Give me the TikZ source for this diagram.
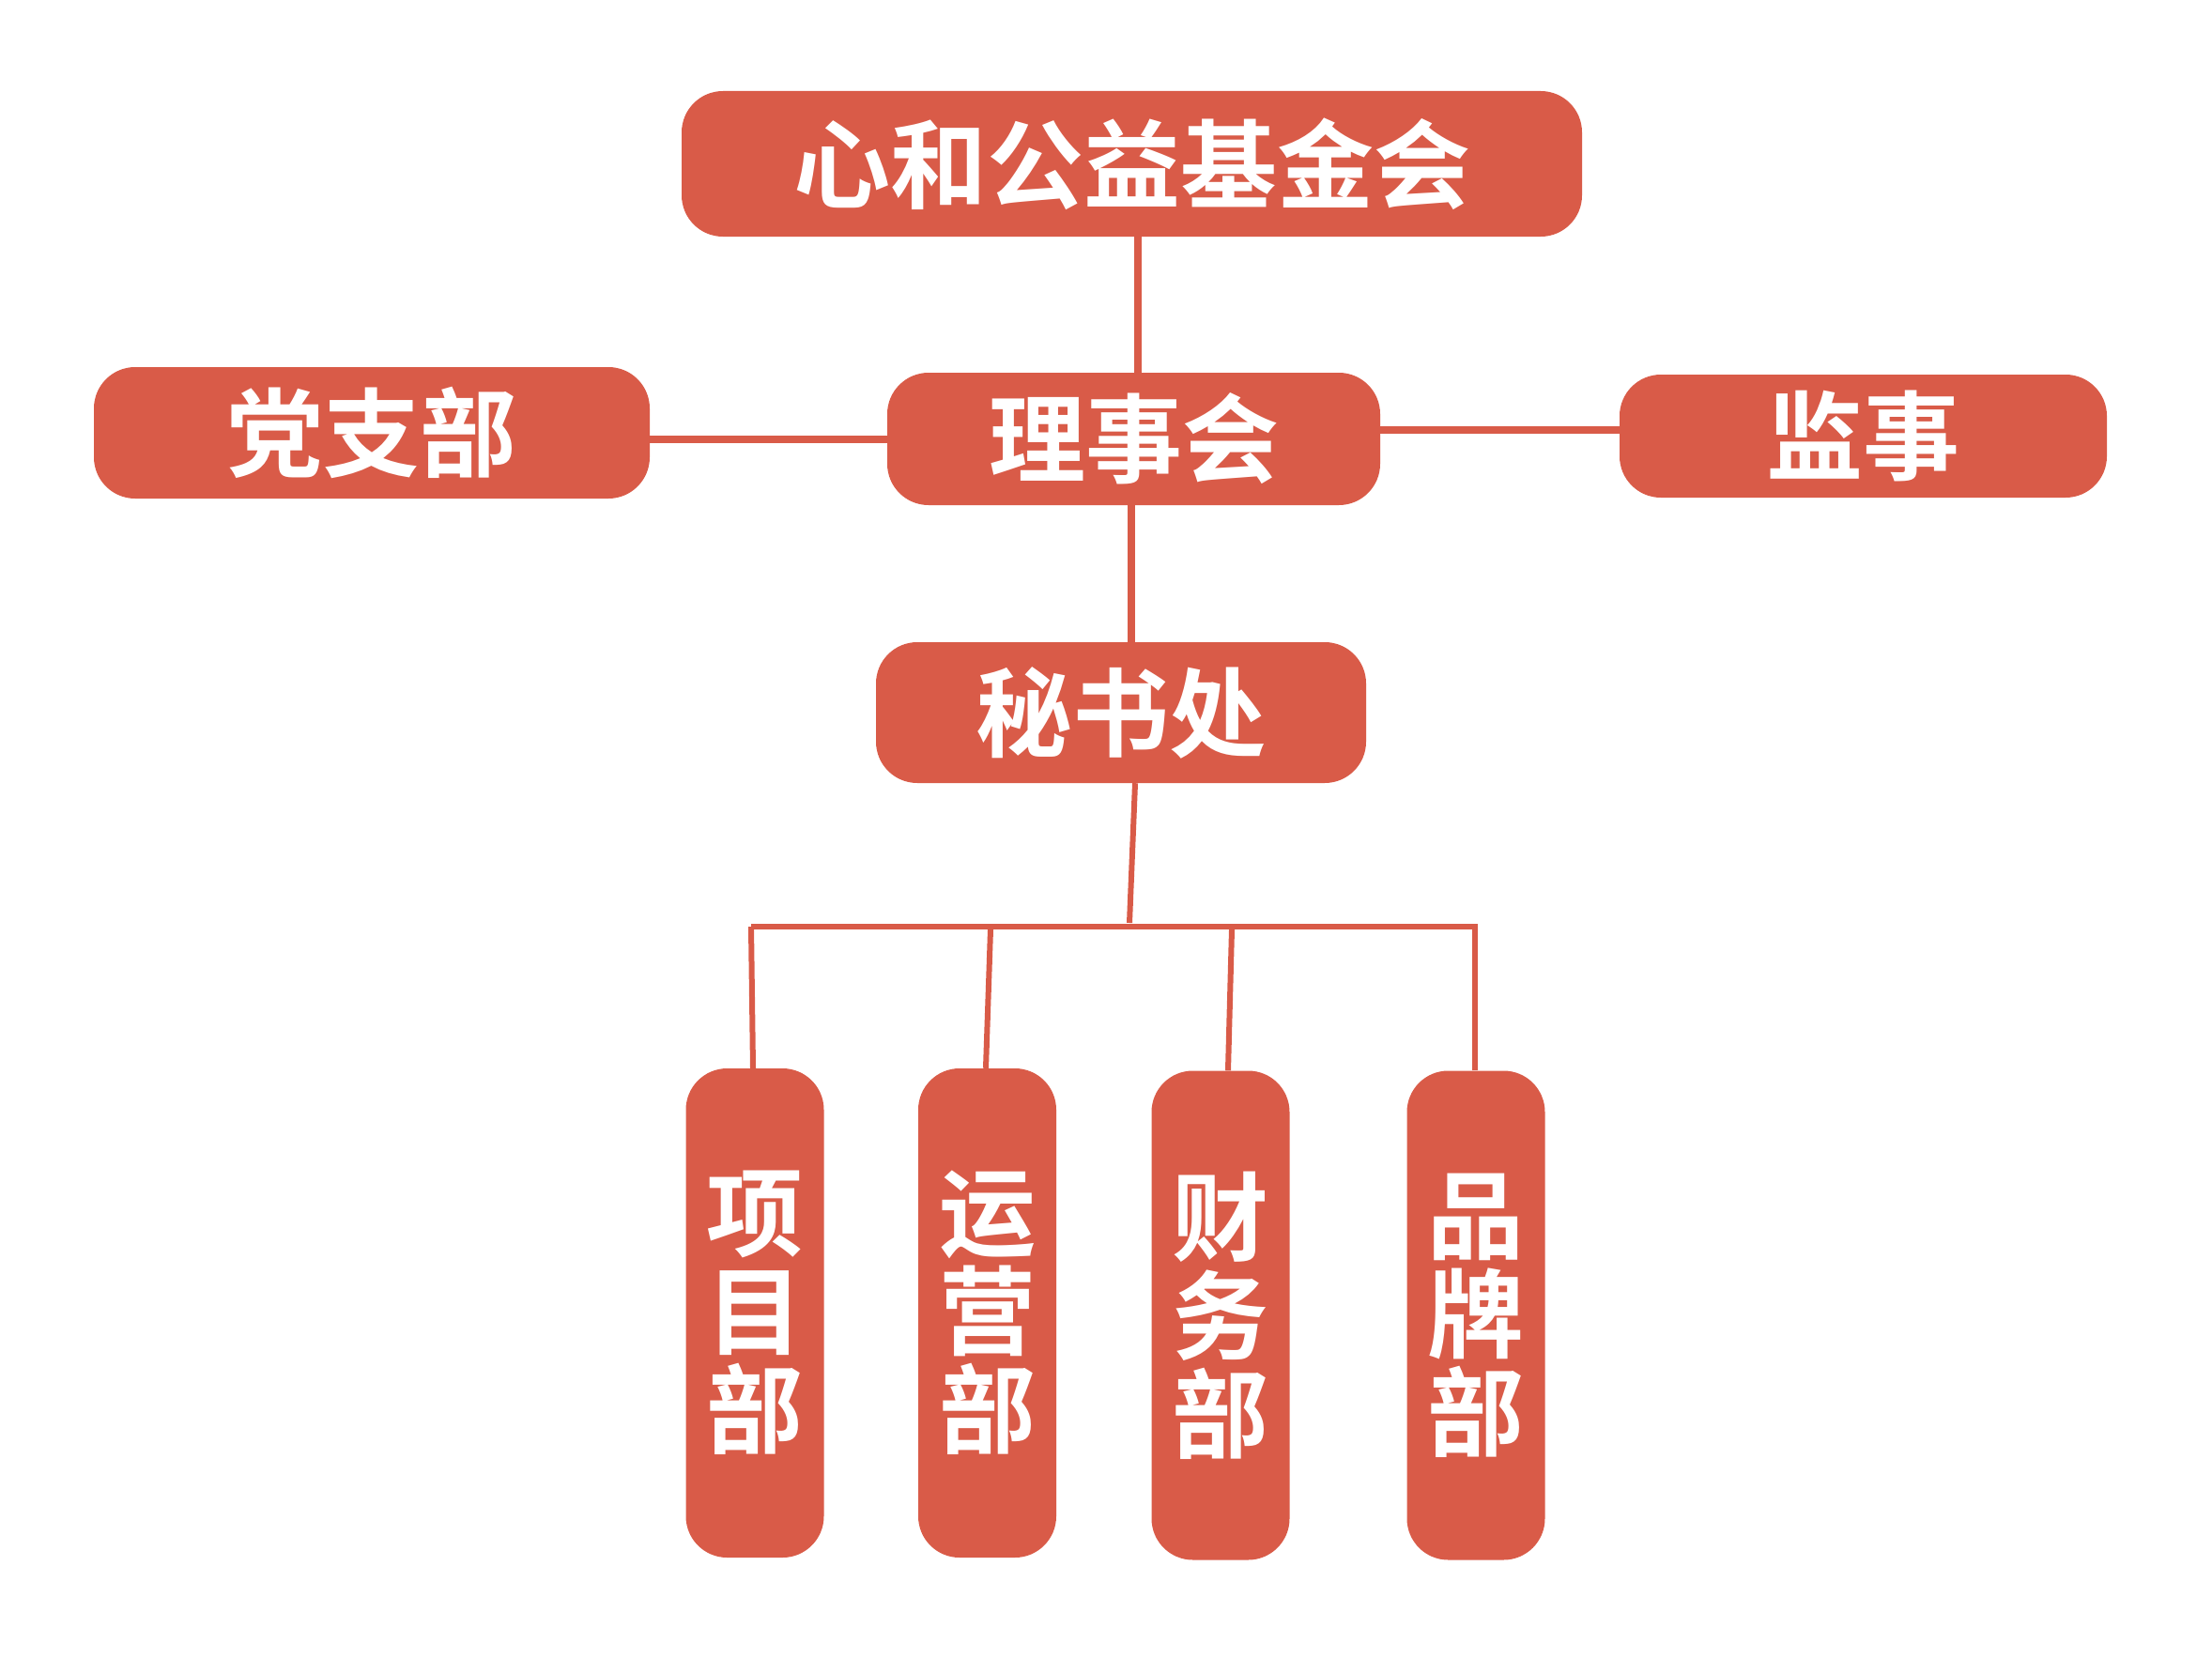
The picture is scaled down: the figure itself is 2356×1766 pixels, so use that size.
\documentclass[tikz,border=0pt]{standalone}
\usepackage{fontspec}
\newfontfamily\cjk{Noto Sans CJK SC}[BoldFont={Noto Sans CJK SC Bold}]
\definecolor{orgred}{RGB}{217,91,72}
\tikzset{
  box/.style={fill=orgred, rounded corners=44, inner sep=0pt,
    text=white, font={\cjk\bfseries\fontsize{103}{105}\selectfont}},
  vbox/.style={box, minimum width=147, minimum height=521, align=center},
  link/.style={draw=orgred, line width=8pt},
  buslink/.style={draw=orgred, line width=6pt}
}
\begin{document}
\begin{tikzpicture}[x=1pt,y=-1pt]
  \useasboundingbox (0,0) rectangle (2356,1766);

  % Boxes
  \node[box, minimum width=959, minimum height=155] (jijin) at (1205.5,174.5) {心和公益基金会};
  \node[box, minimum width=525, minimum height=141] (lishi) at (1207.5,467.5) {理事会};
  \node[box, minimum width=592, minimum height=140] (dangzhi) at (396,461) {党支部};
  \node[box, minimum width=519, minimum height=131] (jianshi) at (1984.5,464.5) {监事};
  \node[box, minimum width=522, minimum height=150] (mishu) at (1194,759) {秘书处};

  \node[vbox] (xiangmu) at (804,1398.5) {项\\目\\部};
  \node[vbox] (yunying) at (1051.5,1398.5) {运\\营\\部};
  \node[vbox] (caiwu) at (1300,1401) {财\\务\\部};
  \node[vbox] (pinpai) at (1572,1401) {品\\牌\\部};

  % Bus
  \coordinate (busL) at (800,987);
  \coordinate (busR) at (1574,987);
  \coordinate (busM) at (1203,983);
  \coordinate (bus2) at (1055,990);
  \coordinate (bus3) at (1312,990);
  \coordinate (bus4) at (1571,990);

  % Links
  \draw[link] ([xshift=6.5]jijin.south) -- ([xshift=4.5]lishi.north);
  \draw[link] ([xshift=-2.5]lishi.south) -- ([xshift=11]mishu.north);
  \draw[link] (lishi.west -| dangzhi.east) -- (lishi.west);
  \draw[link] ([yshift=10]lishi.east) -- ([yshift=10]lishi.east -| jianshi.west);
  \draw[buslink] ([xshift=15]mishu.south) -- (busM);
  \draw[buslink] (busL) -- (busR);
  \draw[buslink] (busL) -- ([xshift=-2]xiangmu.north);
  \draw[buslink] (bus2) -- ([xshift=-1.5]yunying.north);
  \draw[buslink] (bus3) -- ([xshift=8]caiwu.north);
  \draw[buslink] (bus4) -- ([xshift=-1]pinpai.north);
\end{tikzpicture}
\end{document}
